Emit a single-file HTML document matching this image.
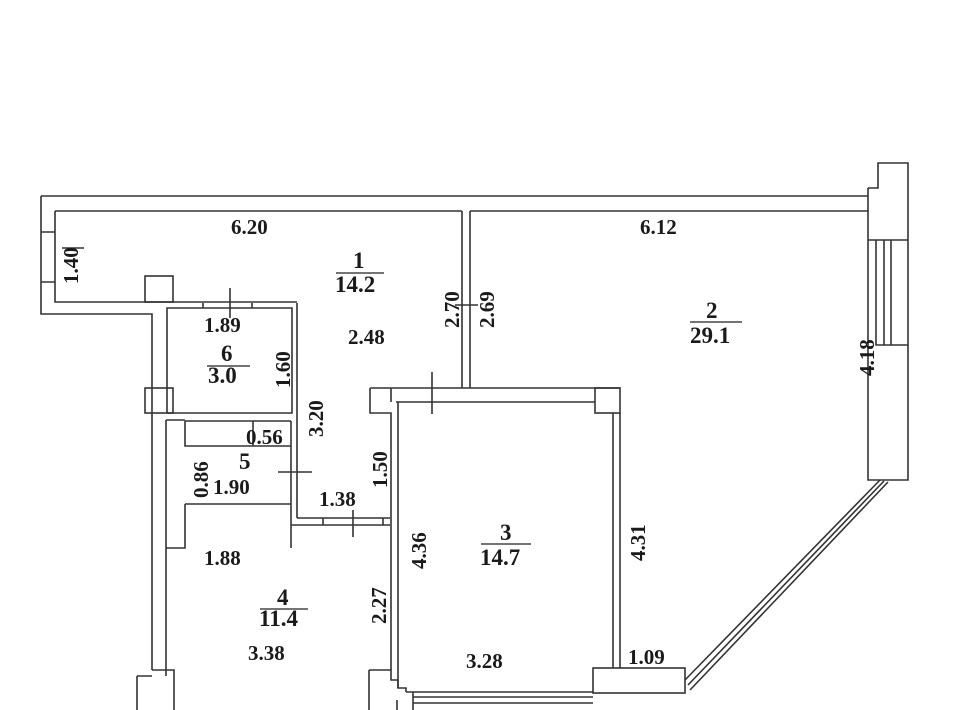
<!DOCTYPE html>
<html><head><meta charset="utf-8"><style>
html,body{margin:0;padding:0;background:#fff;}
svg{display:block}
text{font-family:"Liberation Serif","DejaVu Serif",serif;font-size:21px;font-weight:bold;fill:#1a1a1a;}
text.a{font-size:23px;}
</style></head><body>
<svg width="960" height="710" viewBox="0 0 960 710" xmlns="http://www.w3.org/2000/svg">
<g fill="none" stroke="#333" stroke-width="1.6">
<path d="M41 196 H868 M55 211 H462 M470 211 H868 M462 211 V388 M470 211 V388"/>
<path d="M41 196 V314 H152 V670 M55 211 V302 H297"/>
<path d="M41 232 H55 M41 282 H55"/>
<rect x="145" y="276" width="28" height="26"/>
<path d="M167 413 V308 H292 V413 H167 M297 303 V518"/>
<path d="M203 303 V308 M252 303 V308"/>
<rect x="145" y="388" width="28" height="25"/>
<path d="M166 420 V670 M166 420 H185 M185 421 H291 M185 421 V446 H291 M291 421 V548 M185 504 H291 M185 504 V548 H166 M166 548 V540"/>
<path d="M253 421 V446"/>
<path d="M297 518 H390 M291 525 H390 M323 518 V525 M383 518 V525"/>
<path d="M370 388 H462 M396 402 H595 M462 388 H620 M370 388 V413 H391 V670 M398 402 V688 M391 388 V402"/>
<rect x="595" y="388" width="25" height="25"/>
<path d="M613 413 V668 M620 413 V668"/>
<path d="M369 670 H391 V680 H398 V688 H406 V692 M369 670 V710 M397 700 V710"/>
<path d="M406 692 H593 M413 697 H593 M413 703 H593 M413 692 V710"/>
<rect x="593" y="668" width="92" height="25"/>
<path d="M152 670 H174 V710 M137 676 H152 M137 676 V710 M166 670 V676"/>
<path d="M868 188 H878 V163 H908 V480 H868 V430 M878 163 V188 M868 188 V211 M868 211 V240 H908 M876 240 V345 H908 M868 345 V480 M884 240 V345 M891 240 V345 M868 240 V345"/>
<path d="M880 480 L685 680 M888 482 L690 690 M884 481 L688 685"/>
<path d="M62 248 H84 M230 288 V318 M455 305 H478 M432 372 V414 M278 472 H312 M353 510 V537"/>
</g>
<text x="231" y="234">6.20</text>
<text x="640" y="234">6.12</text>
<text transform="translate(78 284) rotate(-90)">1.40</text>
<text class="a" x="353" y="268">1</text>
<line x1="336" y1="273" x2="384" y2="273" stroke="#222" stroke-width="1.3"/>
<text class="a" x="335" y="292">14.2</text>
<text transform="translate(459 328) rotate(-90)">2.70</text>
<text transform="translate(494 328) rotate(-90)">2.69</text>
<text class="a" x="706" y="318">2</text>
<line x1="690" y1="322" x2="742" y2="322" stroke="#222" stroke-width="1.3"/>
<text class="a" x="690" y="343">29.1</text>
<text transform="translate(874 376) rotate(-90)">4.18</text>
<text x="204" y="332">1.89</text>
<text x="348" y="344">2.48</text>
<text class="a" x="221" y="361">6</text>
<line x1="207" y1="366" x2="250" y2="366" stroke="#222" stroke-width="1.3"/>
<text class="a" x="208" y="383">3.0</text>
<text transform="translate(290 388) rotate(-90)">1.60</text>
<text transform="translate(323 437) rotate(-90)">3.20</text>
<text x="246" y="444">0.56</text>
<text class="a" x="239" y="469">5</text>
<text transform="translate(208 498) rotate(-90)">0.86</text>
<text x="213" y="494">1.90</text>
<text transform="translate(387 488) rotate(-90)">1.50</text>
<text x="319" y="506">1.38</text>
<text transform="translate(426 569) rotate(-90)">4.36</text>
<text class="a" x="500" y="540">3</text>
<line x1="481" y1="544" x2="531" y2="544" stroke="#222" stroke-width="1.3"/>
<text class="a" x="480" y="565">14.7</text>
<text transform="translate(645 561) rotate(-90)">4.31</text>
<text x="204" y="565">1.88</text>
<text class="a" x="277" y="605">4</text>
<line x1="260" y1="609" x2="308" y2="609" stroke="#222" stroke-width="1.3"/>
<text class="a" x="259" y="626">11.4</text>
<text transform="translate(386 624) rotate(-90)">2.27</text>
<text x="248" y="660">3.38</text>
<text x="466" y="668">3.28</text>
<text x="628" y="664">1.09</text>
</svg>
</body></html>
